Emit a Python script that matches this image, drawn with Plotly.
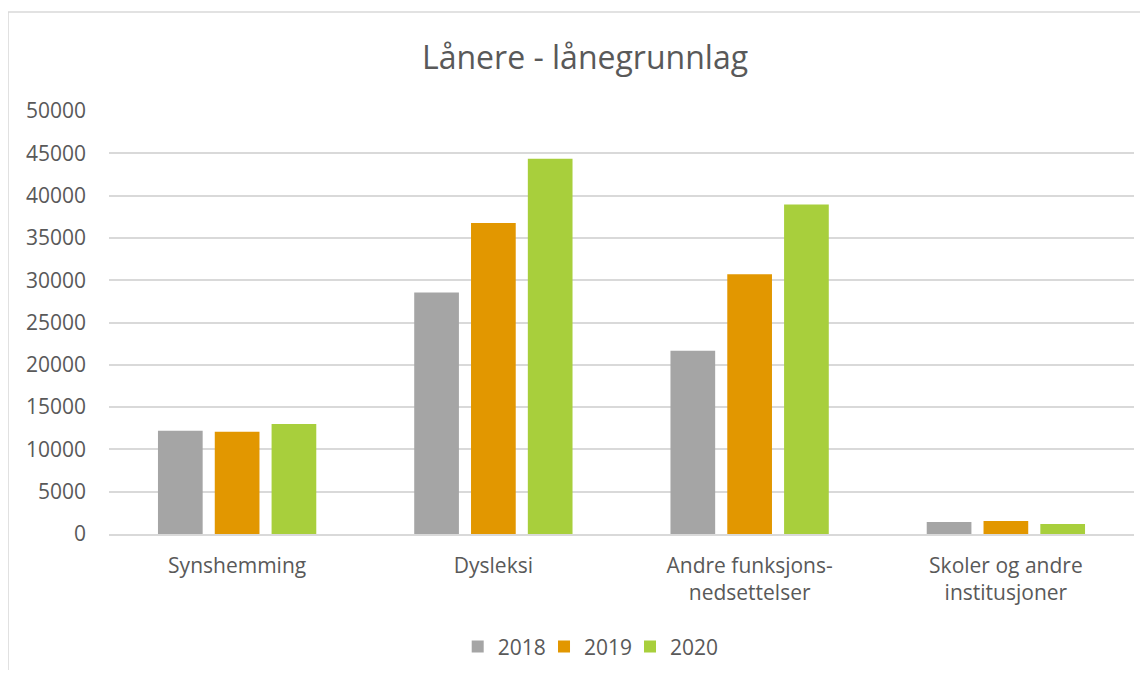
import plotly.graph_objects as go

categories = ["Synshemming", "Dysleksi", "Andre funksjons-<br>nedsettelser", "Skoler og andre<br>institusjoner"]
years = ["2018", "2019", "2020"]
values_2018 = [12200, 28550, 21650, 1420]
values_2019 = [12100, 36750, 30700, 1540]
values_2020 = [13000, 44350, 38950, 1180]
colors = ["#A5A5A5", "#E29700", "#A8CF3C"]

series = [values_2018, values_2019, values_2020]
legend_ids = ["legend", "legend2", "legend3"]
legend_x = [0.3402, 0.4244, 0.5083]

fig = go.Figure()
for name, vals, col, lg in zip(years, series, colors, legend_ids):
    fig.add_trace(go.Bar(x=categories, y=vals, name=name, marker_color=col,
                         marker_line_width=0, legend=lg))

font_family = "Open Sans, DejaVu Sans, sans-serif"
W, H = 1132, 662
legend_common = dict(orientation="h", xanchor="left", y=-0.267, yanchor="middle",
                     font=dict(size=21, color="#595959"), itemwidth=30,
                     bgcolor="rgba(0,0,0,0)")
fig.update_layout(
    width=W, height=H,
    margin=dict(l=101, r=6, t=103, b=136, autoexpand=False),
    paper_bgcolor="white", plot_bgcolor="white",
    title=dict(text="Lånere - lånegrunnlag", x=577 / W, xref="container", xanchor="center",
               y=1 - 50 / H, yref="container", yanchor="middle",
               font=dict(family=font_family, size=32, color="#595959")),
    barmode="group", bargap=0.335, bargroupgap=0.213,
    font=dict(family=font_family, size=21, color="#595959"),
    legend=dict(x=legend_x[0], **legend_common),
    legend2=dict(x=legend_x[1], **legend_common),
    legend3=dict(x=legend_x[2], **legend_common),
    showlegend=True,
)
fig.update_yaxes(range=[0, 50000], dtick=5000, tickformat="d", showgrid=True,
                 gridcolor="#D9D9D9", gridwidth=1.7, automargin=False,
                 zeroline=False, tickfont=dict(size=21, color="#595959"), ticklabelstandoff=22,
                 showline=False)
fig.update_xaxes(showline=True, linecolor="#D9D9D9", linewidth=1.7, automargin=False,
                 tickfont=dict(size=21, color="#595959"), ticklabelstandoff=12)

# outer chart border
fig.add_shape(type="rect", xref="paper", yref="paper",
              x0=-0.0985, x1=1.2, y0=-0.6, y1=1.234,
              line=dict(color="#D9D9D9", width=1.5), fillcolor="rgba(0,0,0,0)", layer="below")

fig.write_html("out.html")
